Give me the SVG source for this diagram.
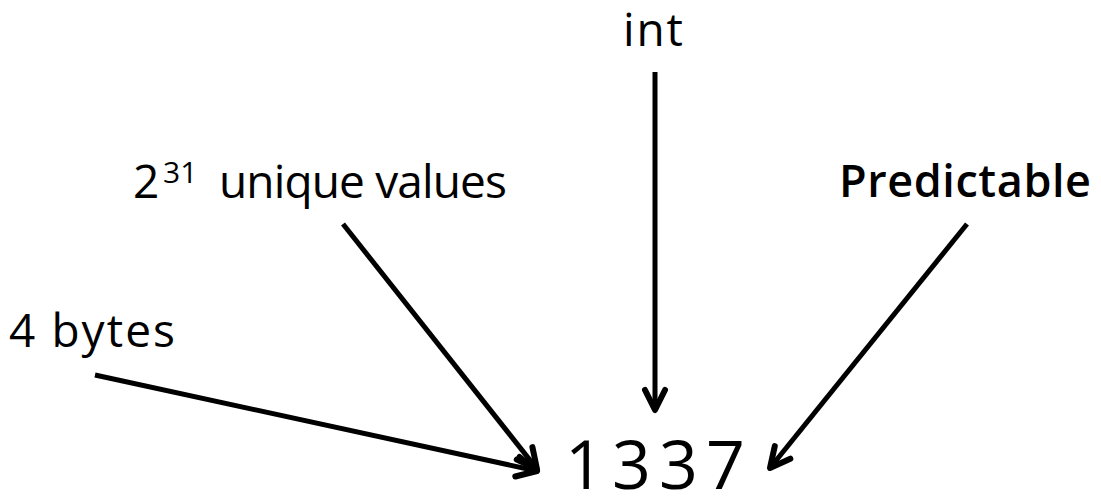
<svg xmlns="http://www.w3.org/2000/svg" width="1101" height="496" viewBox="0 0 1101 496">
  <style>
    .lbl { font-family: "Open Sans", "Liberation Sans", sans-serif; fill: #000; }
    .big { font-size: 68px; }
    .mid { font-size: 46px; }
    .sup { font-size: 30px; }
    .bold { font-weight: 600; }
    .conn { stroke: #000; stroke-width: 5; fill: none; marker-end: url(#head); }
  </style>
  <defs>
    <!-- open chevron arrowhead, drawn in user units so every connector gets the same size -->
    <marker id="head" markerUnits="userSpaceOnUse" viewBox="-26 -14 30 28" refX="0" refY="0" markerWidth="30" markerHeight="28" orient="auto">
      <path d="M-20,-10 L0,0 L-20,10" stroke="#000" stroke-width="6" fill="none" stroke-linejoin="round" stroke-linecap="round"/>
    </marker>
  </defs>

  <g id="connectors">
    <line class="conn" x1="655" y1="72" x2="655" y2="410"/>
    <line class="conn" x1="343" y1="224" x2="537" y2="469"/>
    <line class="conn" x1="95" y1="375" x2="537" y2="471"/>
    <line class="conn" x1="967" y1="224" x2="770" y2="468"/>
  </g>

  <g id="node-value">
    <text class="lbl big" x="565" y="489" textLength="180">1337</text>
  </g>
  <g id="node-type">
    <text class="lbl mid" x="623" y="46" textLength="60">int</text>
  </g>
  <g id="node-range">
    <text class="lbl mid" x="133" y="198">2</text>
    <text class="lbl sup" x="163" y="183">31</text>
    <text class="lbl mid" x="219" y="198" textLength="288">unique values</text>
  </g>
  <g id="node-predictable">
    <text class="lbl mid bold" x="839" y="197" textLength="252" style="font-size:45px">Predictable</text>
  </g>
  <g id="node-size">
    <text class="lbl mid" x="9" y="347" textLength="166">4 bytes</text>
  </g>
</svg>
